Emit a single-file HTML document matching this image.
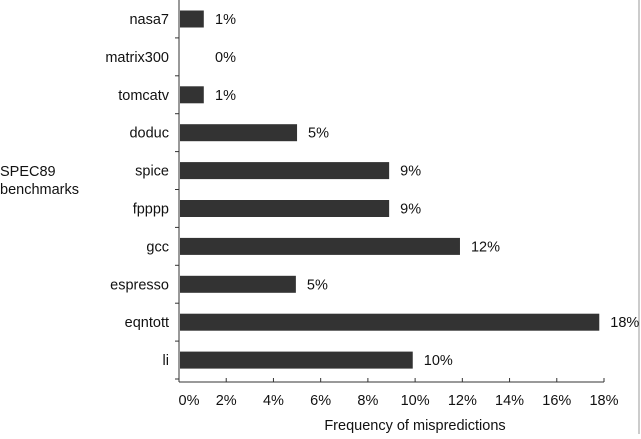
<!DOCTYPE html>
<html><head><meta charset="utf-8"><style>
body{margin:0;background:#fff;}
svg text{font-family:"Liberation Sans",Arial,sans-serif;font-size:14.5px;fill:#111;}
</style></head><body>
<svg width="641" height="434">
<line x1="639" y1="0" x2="639" y2="434" stroke="#999" stroke-width="1"/>
<g id="g"></g>
</svg>
<script>
const categories=["nasa7","matrix300","tomcatv","doduc","spice","fpppp","gcc","espresso","eqntott","li"];
const values=[1.05,0,1.05,5.0,8.9,8.9,11.9,4.95,17.8,9.9];
const valueLabels=["1%","0%","1%","5%","9%","9%","12%","5%","18%","10%"];
const ticks=[0,2,4,6,8,10,12,14,16,18];
const x=v=>179+v*(604-179)/18;
const yc=i=>19+i*37.9;
const g=document.getElementById('g');
const NS="http://www.w3.org/2000/svg";
function mk(t,a){const e=document.createElementNS(NS,t);for(const k in a)e.setAttribute(k,a[k]);g.appendChild(e);return e;}
let e=mk('line',{x1:179,y1:0,x2:179,y2:382,stroke:'#333','stroke-width':1});


e=mk('line',{x1:179,y1:382,x2:604,y2:382,stroke:'#333','stroke-width':1});


for(let i=0;i<=categories.length;i++){
  const ty=yc(i)-19;
  if(ty>0&&ty<380){e=mk('line',{x1:175,y1:ty,x2:179,y2:ty,stroke:'#333'});
  
  }
}
categories.forEach((c,i)=>{
  const cy=yc(i);
  e=mk('text',{x:169,y:cy+5,'text-anchor':'end'});e.textContent=c;
  
  
  if(values[i]>0){e=mk('rect',{x:180,y:cy-8.5,width:x(values[i])-180,height:17,fill:'#333'});
  
  }
  e=mk('text',{x:Math.max(x(values[i]),204)+11,y:cy+5});e.textContent=valueLabels[i];
  
  
});
ticks.forEach(t=>{
  e=mk('line',{x1:x(t),y1:378,x2:x(t),y2:382,stroke:'#333'});
  
  
  e=mk('text',{x:x(t)+(t==0?10:0),y:405,'text-anchor':'middle'});e.textContent=t+'%';
  
  
});
e=mk('text',{x:415,y:430,'text-anchor':'middle'});e.textContent='Frequency of mispredictions';


e=mk('text',{x:0,y:176});e.textContent='SPEC89';


e=mk('text',{x:0,y:194});e.textContent='benchmarks';


</script>
</body></html>
